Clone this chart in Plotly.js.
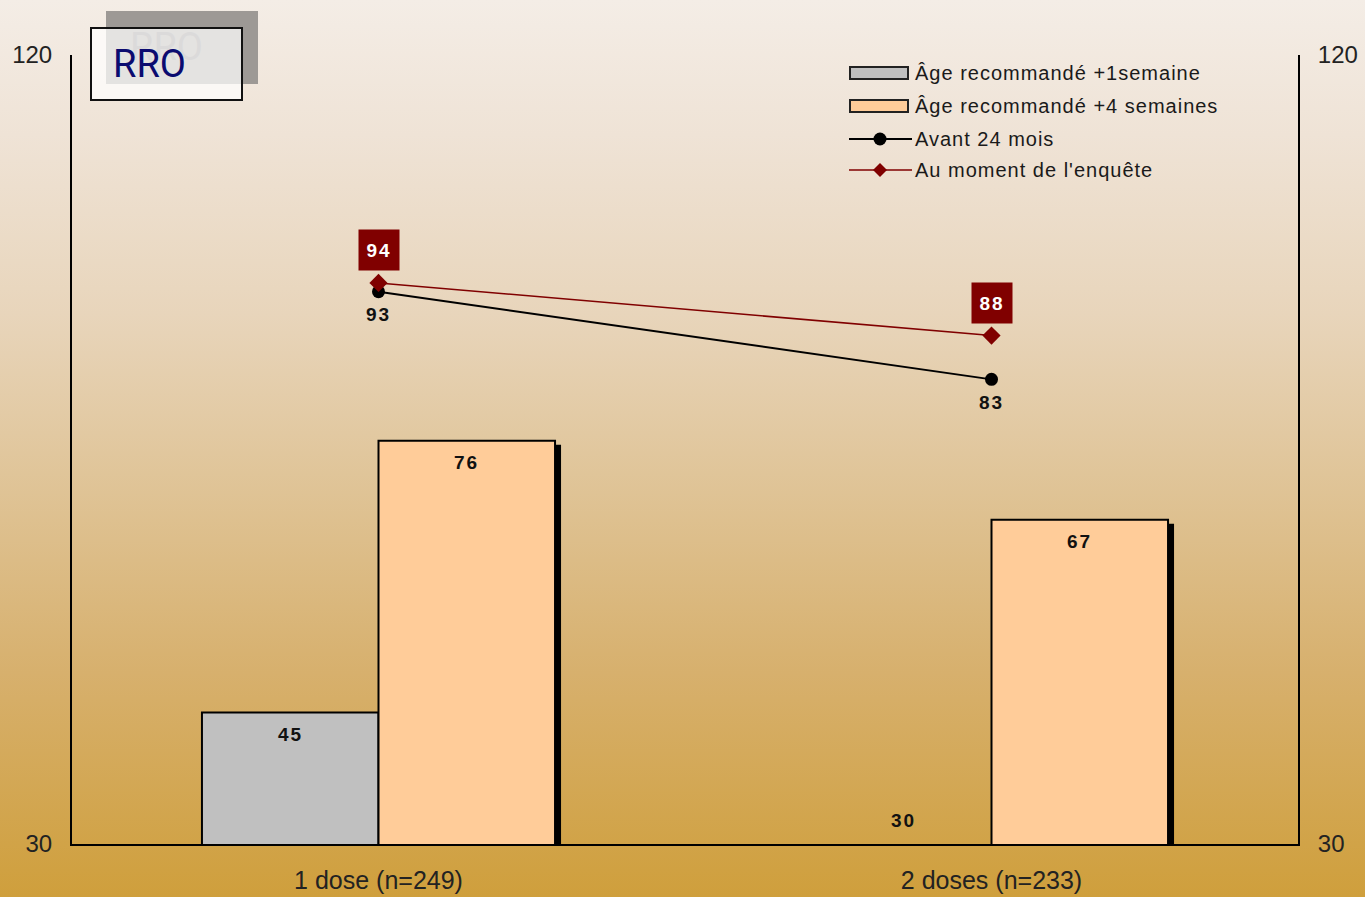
<!DOCTYPE html>
<html>
<head>
<meta charset="utf-8">
<script src="https://cdn.plot.ly/plotly-3.0.1.min.js"></script>
<style>
html, body { margin:0; padding:0; width:1365px; height:897px; overflow:hidden;
  background: linear-gradient(to bottom, #f4ede6 0%, #efe3d6 15%, #e8d5bb 35%, #dfc395 55%, #d7b06d 75%, #cf9f3c 100%); }
#chart { width:1365px; height:897px; }
</style>
</head>
<body>
<div id="chart"></div>
<script>
// ---- data ----
const categories = ['1 dose (n=249)', '2 doses (n=233)'];
const age1w = [45, 30];      // Âge recommandé +1semaine
const age4w = [76, 67];      // Âge recommandé +4 semaines
const before24 = [93, 83];   // Avant 24 mois
const atSurvey = [94, 88];   // Au moment de l'enquête
const seriesNames = ['Âge recommandé +1semaine', 'Âge recommandé +4 semaines', 'Avant 24 mois', "Au moment de l'enquête"];
const yTicks = [30, 120];
const chartTitle = 'RRO';

// ---- layout geometry ----
const W = 1365, H = 897;
const M = { l: 72, r: 67, t: 55, b: 53 };
const plotW = W - M.l - M.r, plotH = H - M.t - M.b;
const yMin = yTicks[0], yMax = yTicks[yTicks.length - 1];
const xRange = [-0.5, categories.length - 0.5];
const bargap = 0.424;
const shadowDx = 6, shadowDy = 4; // px
const dxU = shadowDx * (xRange[1] - xRange[0]) / plotW;
const dyU = shadowDy * (yMax - yMin) / plotH;
const px = p => (p - M.l) / plotW;
const py = p => (H - M.b - p) / plotH;

const COL_GRAY = '#c0c0c0', COL_PEACH = '#ffcc99', COL_RED = '#800000';
const FONT = 'Liberation Sans, Arial, sans-serif';
const outlineW = vals => vals.map(v => (v > yMin ? 2 : 0));

const traces = [
  // shadows (main, shifted axes)
  { type: 'bar', x: categories, y: age1w, xaxis: 'x', yaxis: 'y', marker: { color: '#000' }, hoverinfo: 'skip', showlegend: false },
  { type: 'bar', x: categories, y: age4w, xaxis: 'x', yaxis: 'y', marker: { color: '#000' }, hoverinfo: 'skip', showlegend: false },
  // real bars
  { type: 'bar', name: seriesNames[0], x: categories, y: age1w, xaxis: 'x2', yaxis: 'y2',
    marker: { color: COL_GRAY, line: { color: '#000', width: outlineW(age1w) } }, showlegend: false },
  { type: 'bar', name: seriesNames[1], x: categories, y: age4w, xaxis: 'x2', yaxis: 'y2',
    marker: { color: COL_PEACH, line: { color: '#000', width: outlineW(age4w) } }, showlegend: false },
  // lines
  { type: 'scatter', mode: 'lines+markers', name: seriesNames[2], x: categories, y: before24, xaxis: 'x2', yaxis: 'y3',
    line: { color: '#000', width: 2 }, marker: { color: '#000', size: 13, symbol: 'circle' }, showlegend: false },
  { type: 'scatter', mode: 'lines+markers', name: seriesNames[3], x: categories, y: atSurvey, xaxis: 'x2', yaxis: 'y3',
    line: { color: COL_RED, width: 1.6 }, marker: { color: COL_RED, size: 14, symbol: 'diamond' }, showlegend: false }
];

const annotations = [];
const shapes = [];

// bar value labels
const gw = 1 - bargap;
function barLabels(vals, off) {
  vals.forEach((v, i) => {
    annotations.push({ xref: 'x2', yref: 'y2', x: i + off, y: v, yshift: v <= yMin ? 24 : -22,
      text: '<span style="letter-spacing:2px">' + v + '</span>', showarrow: false,
      font: { family: FONT, size: 19, color: '#111', weight: 'bold' } });
  });
}
barLabels(age1w, -gw / 4);
barLabels(age4w, gw / 4);
// line labels
before24.forEach((v, i) => annotations.push({ xref: 'x2', yref: 'y2', x: i, y: v, yshift: -23,
  text: '<span style="letter-spacing:2px">' + v + '</span>', showarrow: false,
  font: { family: FONT, size: 19, color: '#111', weight: 'bold' } }));
atSurvey.forEach((v, i) => annotations.push({ xref: 'x2', yref: 'y2', x: i, y: v, yshift: 33,
  text: '<span style="letter-spacing:2px">' + v + '</span>', showarrow: false, bgcolor: COL_RED,
  width: 40, height: 40, borderpad: 0,
  font: { family: FONT, size: 19, color: '#fff', weight: 'bold' } }));

// title box
shapes.push({ type: 'rect', xref: 'paper', yref: 'paper', x0: px(106), x1: px(258), y0: py(84), y1: py(11),
  fillcolor: '#9d9995', line: { width: 0 } });
annotations.push({ xref: 'paper', yref: 'paper', x: px(166), y: py(47), xanchor: 'center', yanchor: 'middle',
  text: chartTitle, showarrow: false,
  font: { family: 'Roboto, sans-serif', size: 38, color: '#7d7b79' } });
annotations.push({ xref: 'paper', yref: 'paper', x: px(90), y: py(27), xanchor: 'left', yanchor: 'top',
  text: ' ', showarrow: false, width: 149, height: 70, borderpad: 0, borderwidth: 2, bordercolor: '#111',
  bgcolor: 'rgba(255,255,255,0.72)' });
annotations.push({ xref: 'paper', yref: 'paper', x: px(149), y: py(64), xanchor: 'center', yanchor: 'middle',
  text: chartTitle, showarrow: false,
  font: { family: 'Roboto, sans-serif', size: 38, color: '#0b0b70' } });

// custom legend
const legRows = [73, 106, 139, 170];
const legFill = [COL_GRAY, COL_PEACH];
legRows.forEach((cy, k) => {
  if (k < 2) {
    shapes.push({ type: 'rect', xref: 'paper', yref: 'paper', x0: px(850), x1: px(908), y0: py(cy + 6), y1: py(cy - 6),
      fillcolor: legFill[k], line: { color: '#222', width: 2 } });
  } else {
    const c = k === 2 ? '#000' : COL_RED;
    shapes.push({ type: 'line', xref: 'paper', yref: 'paper', x0: px(849), x1: px(912), y0: py(cy), y1: py(cy),
      line: { color: c, width: k === 2 ? 2 : 1.6 } });
    if (k === 2) {
      shapes.push({ type: 'circle', xref: 'paper', yref: 'paper', x0: px(873.5), x1: px(886.5), y0: py(cy + 6.5), y1: py(cy - 6.5),
        fillcolor: c, line: { color: c, width: 0 } });
    } else {
      const pth = 'M' + px(880) + ',' + py(cy - 7) + ' L' + px(887) + ',' + py(cy) + ' L' + px(880) + ',' + py(cy + 7) + ' L' + px(873) + ',' + py(cy) + ' Z';
      shapes.push({ type: 'path', xref: 'paper', yref: 'paper', path: pth, fillcolor: c, line: { color: c, width: 0 } });
    }
  }
  annotations.push({ xref: 'paper', yref: 'paper', x: px(913), y: py(cy), xanchor: 'left', yanchor: 'middle',
    text: '<span style="letter-spacing:1px">' + seriesNames[k] + '</span>', showarrow: false,
    font: { family: FONT, size: 20, color: '#1a1a1a' } });
});

const tickFont = { family: FONT, size: 24, color: '#222' };
const layout = {
  width: W, height: H, margin: M,
  paper_bgcolor: 'rgba(0,0,0,0)', plot_bgcolor: 'rgba(0,0,0,0)',
  barmode: 'group', bargap: bargap, bargroupgap: 0,
  showlegend: false,
  xaxis: { type: 'category', range: [xRange[0] - dxU, xRange[1] - dxU], visible: false, fixedrange: true },
  yaxis: { range: [yMin + dyU, yMax + dyU], visible: false, fixedrange: true },
  xaxis2: { type: 'category', overlaying: 'x', side: 'bottom', range: xRange, showline: true, linecolor: '#000', linewidth: 2,
    ticks: '', showgrid: false, zeroline: false, tickfont: { family: FONT, size: 25, color: '#222' }, ticklabelstandoff: 13 },
  yaxis2: { overlaying: 'y', side: 'left', range: [yMin, yMax], tickvals: yTicks, showline: true, linecolor: '#000', linewidth: 2,
    ticks: '', showgrid: false, zeroline: false, tickfont: tickFont, ticklabelstandoff: 13 },
  yaxis3: { overlaying: 'y', side: 'right', range: [yMin, yMax], tickvals: yTicks, showline: true, linecolor: '#000', linewidth: 2,
    ticks: '', showgrid: false, zeroline: false, tickfont: tickFont, ticklabelstandoff: 13 },
  annotations: annotations,
  shapes: shapes
};

Plotly.newPlot('chart', traces, layout, { displayModeBar: false, staticPlot: true });
</script>
</body>
</html>
